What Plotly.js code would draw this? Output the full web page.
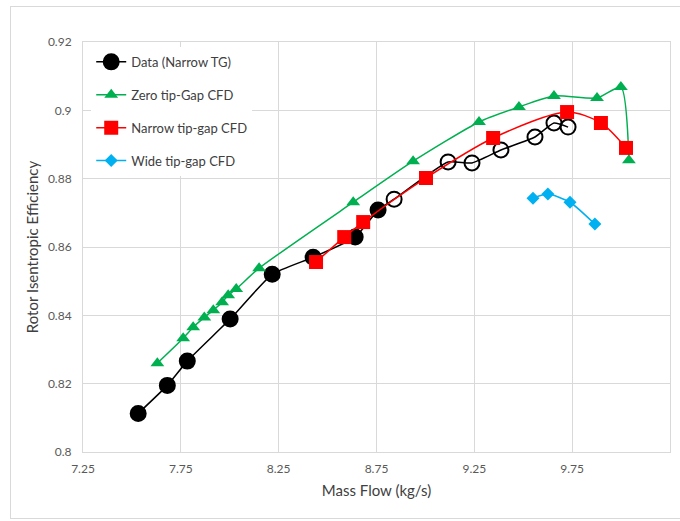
<!DOCTYPE html>
<html>
<head>
<meta charset="utf-8">
<script src="https://cdn.plot.ly/plotly-3.0.1.min.js"></script>
<style>
  html, body { margin: 0; padding: 0; background: #fff; }
  #wrap { position: relative; width: 680px; height: 521px; }
  #chart { width: 680px; height: 521px; }
  #frame { position: absolute; left: 10px; top: 6px; width: 690px; height: 511px;
           border: 1px solid #D9D9D9; pointer-events: none; }
</style>
</head>
<body>
<div id="wrap"><div id="chart"></div><div id="frame"></div></div>
<script>
// Data (Narrow TG): measured points (filled = low flow, open = high flow)
const dataFlow = [7.532, 7.681, 7.783, 8.002, 8.217, 8.426, 8.641, 8.758, 8.840, 9.116, 9.238, 9.386, 9.560, 9.657, 9.729];
const dataEff  = [0.8113, 0.8195, 0.8266, 0.8389, 0.8520, 0.8570, 0.8629, 0.8708, 0.8740, 0.8849, 0.8846, 0.8884, 0.8922, 0.8963, 0.8951];
const dataFilled = [true, true, true, true, true, true, true, true, false, false, false, false, false, false, false];

// Zero tip-gap CFD
const zeroFlow = [7.630, 7.762, 7.813, 7.870, 7.916, 7.961, 7.992, 8.033, 8.150, 8.631, 8.937, 9.274, 9.478, 9.657, 9.877, 9.999, 10.040];
const zeroEff  = [0.8260, 0.8333, 0.8365, 0.8394, 0.8415, 0.8438, 0.8459, 0.8477, 0.8538, 0.8731, 0.8851, 0.8966, 0.9010, 0.9042, 0.9036, 0.9068, 0.8854];

// Narrow tip-gap CFD
const narrowFlow = [8.441, 8.585, 8.682, 9.003, 9.346, 9.724, 9.897, 10.025];
const narrowEff  = [0.8556, 0.8629, 0.8673, 0.8802, 0.8919, 0.8995, 0.8963, 0.8890];

// Wide tip-gap CFD
const wideFlow = [9.550, 9.626, 9.739, 9.866];
const wideEff  = [0.8743, 0.8755, 0.8731, 0.8667];

const seriesNames = ["Data (Narrow TG)", "Zero tip-Gap CFD", "Narrow tip-gap CFD", "Wide tip-gap CFD"];
const xTicks = [7.25, 7.75, 8.25, 8.75, 9.25, 9.75, 10.25];
const yTicks = [0.8, 0.82, 0.84, 0.86, 0.88, 0.9, 0.92];

const FONT = "Lato, 'Open Sans', sans-serif";

const traces = [
  {
    x: dataFlow, y: dataEff, name: seriesNames[0], legendgroup: "a",
    mode: "lines+markers", type: "scatter",
    line: { color: "#000000", width: 1.5, shape: "spline", smoothing: 0.5 },
    marker: {
      symbol: dataFilled.map(f => f ? "circle" : "circle-open"),
      size: 15, color: "#000000", line: { color: "#000000", width: 2 }
    }
  },
  {
    x: zeroFlow, y: zeroEff, name: seriesNames[1], legendgroup: "b",
    mode: "lines+markers", type: "scatter",
    line: { color: "#00B050", width: 1.5, shape: "spline", smoothing: 0.6 },
    marker: { symbol: "triangle-up", size: 12, color: "#00B050" }
  },
  {
    x: narrowFlow, y: narrowEff, name: seriesNames[2], legendgroup: "c",
    mode: "lines+markers", type: "scatter",
    line: { color: "#FF0000", width: 1.5, shape: "spline", smoothing: 0.8 },
    marker: { symbol: "square", size: 14, color: "#FF0000" }
  },
  {
    x: wideFlow, y: wideEff, name: seriesNames[3], legendgroup: "d",
    mode: "lines+markers", type: "scatter",
    line: { color: "#00B0F0", width: 1.5, shape: "spline", smoothing: 0.6 },
    marker: { symbol: "diamond", size: 10, color: "#00B0F0" }
  }
];

const layout = {
  width: 680, height: 521,
  margin: { l: 83, r: 10, t: 42, b: 69, pad: 0 },
  paper_bgcolor: "#ffffff", plot_bgcolor: "#ffffff",
  font: { family: FONT, color: "#595959", size: 12 },
  showlegend: true,
  legend: {
    x: 0.014, y: 0.988, xanchor: "left", yanchor: "top",
    bgcolor: "#ffffff", borderwidth: 0,
    font: { family: FONT, size: 13, color: "#404040" },
    tracegroupgap: 13, itemwidth: 30
  },
  xaxis: {
    range: [7.25, 10.25], tickvals: xTicks, ticktext: xTicks.map(String),
    showgrid: true, gridcolor: "#D9D9D9", gridwidth: 1,
    showline: true, linecolor: "#D9D9D9", linewidth: 1, mirror: true,
    zeroline: false, ticks: "", ticklabelstandoff: 6,
    tickfont: { family: FONT, size: 12, color: "#595959" },
    title: { text: "Mass Flow (kg/s)", font: { family: FONT, size: 15, color: "#404040" }, standoff: 10 }
  },
  yaxis: {
    range: [0.8, 0.92], tickvals: yTicks, ticktext: yTicks.map(String),
    showgrid: true, gridcolor: "#D9D9D9", gridwidth: 1,
    showline: true, linecolor: "#D9D9D9", linewidth: 1, mirror: true,
    zeroline: false, ticks: "", ticklabelstandoff: 8,
    tickfont: { family: FONT, size: 12, color: "#595959" },
    title: { text: "Rotor Isentropic Efficiency", font: { family: FONT, size: 15, color: "#404040" }, standoff: 5 }
  }
};

Plotly.newPlot("chart", traces, layout, { displayModeBar: false, staticPlot: true });
</script>
</body>
</html>
